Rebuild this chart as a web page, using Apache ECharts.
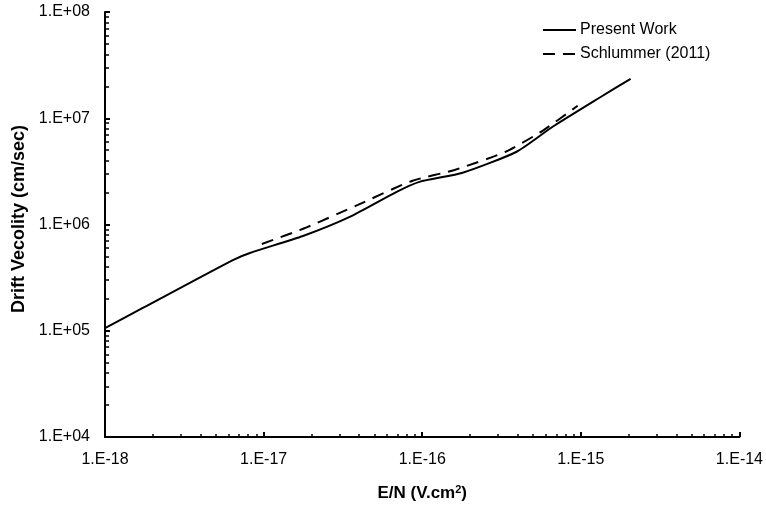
<!DOCTYPE html>
<html>
<head>
<meta charset="utf-8">
<script src="https://cdn.jsdelivr.net/npm/echarts@6/dist/echarts.min.js"></script>
<style>html,body{margin:0;padding:0;background:#fff}#c{width:766px;height:508px}</style>
</head>
<body>
<div id="c"></div>
<script>
// E/N (V.cm^2) and drift velocity (cm/sec)
const presentX = [1e-18, 1.73e-18, 6.4e-18, 8.2e-18, 1.77e-17, 3.49e-17, 6.9e-17, 9.6e-17, 1.8e-16, 3.94e-16, 6.64e-16, 1.31e-15, 2.06e-15];
const presentY = [1.06e5, 1.64e5, 4.63e5, 5.4e5, 7.8e5, 1.18e6, 2.03e6, 2.52e6, 3.07e6, 4.84e6, 8.32e6, 1.56e7, 2.35e7];
const schX = [9.75e-18, 1.82e-17, 3.93e-17, 8.6e-17, 1.6e-16, 3.36e-16, 5.74e-16, 9.55e-16];
const schY = [6.55e5, 9.26e5, 1.53e6, 2.57e6, 3.26e6, 4.84e6, 7.62e6, 1.31e7];
const seriesNames = ['Present Work', 'Schlummer (2011)'];
const xMin = 1e-18, xMax = 1e-14, yMin = 1e4, yMax = 1e8;

function minorVals(lo, hi) {
  const out = [];
  for (let e = Math.round(Math.log10(lo)); e < Math.round(Math.log10(hi)); e++) {
    for (let m = 2; m <= 9; m++) out.push(m * Math.pow(10, e));
  }
  return out;
}
function fmtX(v) { const e = Math.round(Math.log10(v)); return '1.E' + (e < 0 ? '-' : '+') + String(Math.abs(e)).padStart(2, '0'); }

const font = "'Liberation Sans', Arial, sans-serif";
const chart = echarts.init(document.getElementById('c'));
const baseAxis = (extra) => Object.assign({
  type: 'log', logBase: 10,
  splitLine: { show: false },
  minorSplitLine: { show: false },
}, extra);

chart.setOption({
  animation: false,
  backgroundColor: '#fff',
  grid: { left: 105, right: 26, top: 12, bottom: 71 },
  legend: {
    left: 542, top: 22, padding: 0, orient: 'vertical', itemWidth: 33, itemHeight: 16, itemGap: 8,
    itemStyle: { opacity: 0 },
    textStyle: { fontFamily: font, fontSize: 16, color: '#000', padding: [0, 0, 0, -1] },
    data: seriesNames
  },
  xAxis: [
    baseAxis({
      min: xMin, max: xMax, position: 'bottom',
      name: 'E/N (V.cm{sup|2})', nameLocation: 'middle', nameGap: 47,
      nameTextStyle: { fontFamily: font, fontSize: 17, fontWeight: 'bold', color: '#000',
        rich: { sup: { fontFamily: font, fontSize: 11, fontWeight: 'bold', color: '#000', verticalAlign: 'top', padding: [0, 0, 8, 0] } } },
      axisLine: { show: true, lineStyle: { color: '#000', width: 2 } },
      axisTick: { show: true, inside: true, length: 5, lineStyle: { color: '#000', width: 2 } },
      axisLabel: { fontFamily: font, fontSize: 16, color: '#000', margin: 15, formatter: fmtX },
    }),
    baseAxis({
      min: xMin, max: xMax, position: 'bottom',
      axisLine: { show: false },
      axisLabel: { show: false },
      axisTick: { show: true, inside: true, length: 3, customValues: minorVals(xMin, xMax), lineStyle: { color: '#000', width: 1.5 } },
    })
  ],
  yAxis: [
    baseAxis({
      min: yMin, max: yMax, position: 'left',
      name: 'Drift Vecolity (cm/sec)', nameLocation: 'middle', nameGap: 69,
      nameTextStyle: { fontFamily: font, fontSize: 18, fontWeight: 'bold', color: '#000', padding: [0, 0, 0, 11] },
      axisLine: { show: true, lineStyle: { color: '#000', width: 2 } },
      axisTick: { show: true, inside: true, length: 5, lineStyle: { color: '#000', width: 2 } },
      axisLabel: { fontFamily: font, fontSize: 16, color: '#000', margin: 15, formatter: fmtX },
    }),
    baseAxis({
      min: yMin, max: yMax, position: 'left',
      axisLine: { show: false },
      axisLabel: { show: false },
      axisTick: { show: true, inside: true, length: 4, customValues: minorVals(yMin, yMax), lineStyle: { color: '#000', width: 1.5 } },
    })
  ],
  series: [
    {
      name: seriesNames[0], type: 'line', xAxisIndex: 0, yAxisIndex: 0,
      data: presentX.map((x, i) => [x, presentY[i]]),
      showSymbol: false, symbol: 'none', smooth: 0.2,
      lineStyle: { color: '#000', width: 2 }, itemStyle: { color: '#000' }
    },
    {
      name: seriesNames[1], type: 'line', xAxisIndex: 0, yAxisIndex: 0,
      data: schX.map((x, i) => [x, schY[i]]),
      showSymbol: false, symbol: 'none', smooth: 0.2,
      lineStyle: { color: '#000', width: 2, type: [12, 8] }, itemStyle: { color: '#000' }
    }
  ]
});
</script>
</body>
</html>
